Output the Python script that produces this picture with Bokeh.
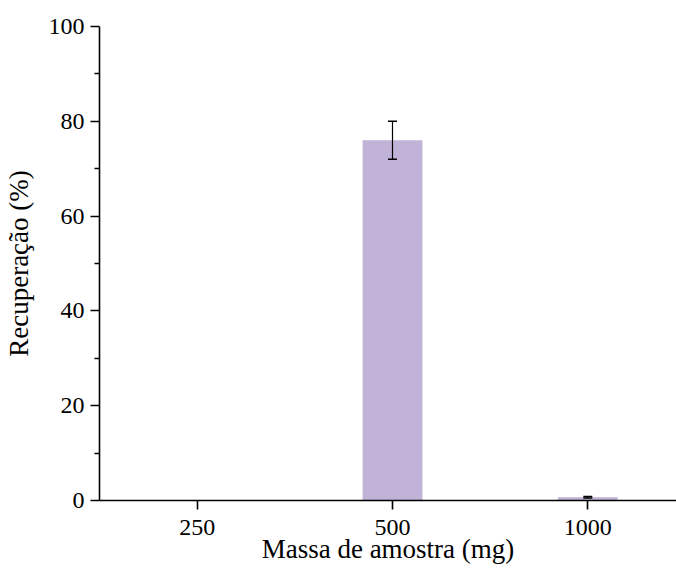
from bokeh.plotting import figure
from bokeh.models import Range1d, FixedTicker, ColumnDataSource, Whisker, TeeHead
from bokeh.embed import file_html
from bokeh.resources import INLINE

masses = ["250", "500", "1000"]
recovery = [0.0, 76.0, 0.7]
errors = [0.0, 4.0, 0.15]

xs = [i + 1 for i in range(len(masses))]
bar_src = ColumnDataSource(dict(x=xs, top=recovery))
ex = [x for x, e in zip(xs, errors) if e > 0]
ev = [v for v, e in zip(recovery, errors) if e > 0]
ee = [e for e in errors if e > 0]
err_src = ColumnDataSource(dict(x=ex, lower=[v - e for v, e in zip(ev, ee)],
                                upper=[v + e for v, e in zip(ev, ee)]))

FONT = "Liberation Serif"

p = figure(width=676, height=569, output_backend="svg", toolbar_location=None,
           x_range=Range1d(0.5, 3.454), y_range=Range1d(0, 100),
           min_border_left=97, min_border_right=0, min_border_top=26, min_border_bottom=69)
p.outline_line_color = None
p.xgrid.visible = False
p.ygrid.visible = False

p.vbar(x="x", top="top", bottom=0, width=0.306, source=bar_src,
       fill_color="#C1B2D7", line_color=None)

w = Whisker(base="x", lower="lower", upper="upper", source=err_src,
            line_color="black", line_width=1.2, level="overlay",
            upper_head=TeeHead(size=9, line_color="black", line_width=1.5),
            lower_head=TeeHead(size=9, line_color="black", line_width=1.5))
p.add_layout(w)

p.xaxis.ticker = FixedTicker(ticks=xs)
p.xaxis.major_label_overrides = {x: m for x, m in zip(xs, masses)}
p.xaxis.minor_tick_line_color = None
p.yaxis.ticker = FixedTicker(ticks=[0, 20, 40, 60, 80, 100],
                             minor_ticks=[10, 30, 50, 70, 90])

for ax in (p.xaxis[0], p.yaxis[0]):
    ax.axis_line_width = 1.6
    ax.major_tick_line_width = 1.6
    ax.minor_tick_line_width = 1.6
    ax.major_tick_out = 9
    ax.major_tick_in = 0
    ax.minor_tick_out = 5
    ax.minor_tick_in = 0
    ax.major_label_text_font = FONT
    ax.major_label_text_font_size = "24px"
    ax.major_label_text_color = "black"
    ax.axis_label_text_font = FONT
    ax.axis_label_text_font_size = "27px"
    ax.axis_label_text_font_style = "normal"
    ax.axis_label_text_color = "black"
    ax.major_label_standoff = 6

p.xaxis.major_label_standoff = 10
p.xaxis.axis_label = "Massa de amostra (mg)"
p.yaxis.axis_label = "Recuperação (%)"
p.xaxis.axis_label_standoff = -4
p.yaxis.axis_label_standoff = 12

open("out.html", "w").write(file_html(p, INLINE))
